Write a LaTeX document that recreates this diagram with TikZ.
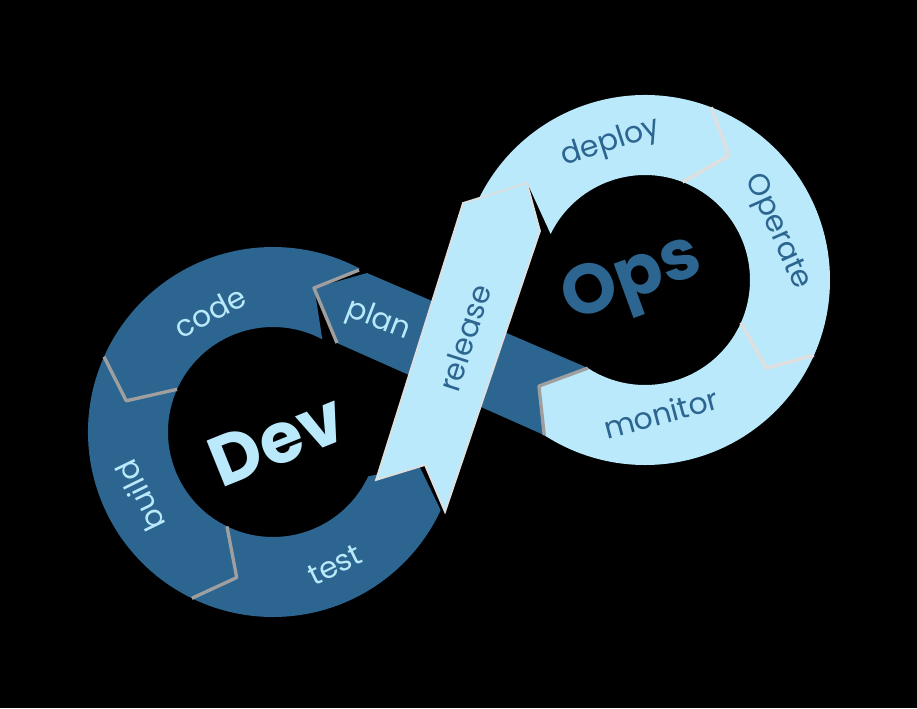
\documentclass[tikz,border=0pt]{standalone}
\usepackage{fontspec}
\setmainfont{Poppins}
\definecolor{devblue}{HTML}{2B6590}
\definecolor{opsblue}{HTML}{B9E9FA}
% one arrow piece of a loop: style, start angle, end angle, tip offset
\newcommand{\ringpart}[4]{%
  \fill[#1] (#2:\router) arc[start angle=#2,end angle=#3,radius=\router]
    -- ({#3+#4}:\rtip) -- (#3:\rinner) arc[start angle=#3,end angle=#2,radius=\rinner]
    -- ({#2+#4}:\rtip) -- cycle;}
\begin{document}
\begin{tikzpicture}[x=0.02cm,y=-0.02cm,
    darkpart/.style={fill=devblue},
    lightpart/.style={fill=opsblue},
    darkjoin/.style={draw=gray!75,line width=1.9pt,line join=round},
    lightjoin/.style={draw=gray!25,line width=1.9pt,line join=round},
    darklabel/.style={text=opsblue,font=\fontsize{17}{20}\selectfont},
    lightlabel/.style={text=devblue,font=\fontsize{17}{20}\selectfont},
    biglabel/.style={font=\fontsize{40}{44}\selectfont\bfseries}]
  \def\rinner{105}
  \def\router{185}
  \def\rtip{150}
  \fill[black] (0,0) rectangle (917,708);
  % dev loop
  \begin{scope}[shift={(273,432)}]
    \ringpart{darkpart}{116}{25}{-12}
    \ringpart{darkpart}{204}{116}{-12}
    \ringpart{darkpart}{298}{204}{-12}
  \end{scope}
  % ops loop
  \begin{scope}[shift={(645,280)}]
    \ringpart{lightpart}{24}{123}{12}
    \ringpart{lightpart}{291}{384}{12}
    \ringpart{lightpart}{206}{291}{13}
  \end{scope}
  % plan band goes under release
  \fill[darkpart] (367,273) -- (588,368) -- (539,386) -- (544,435) -- (337,343) -- (314,288) -- cycle;
  \fill[lightpart,draw=gray!25,line width=1pt] (463,203) -- (527,183) -- (540,231) -- (445,512)
    -- (425,465) -- (376,480) -- cycle;
  % joins
  \draw[darkjoin] (359,270) -- (314,288) -- (337,343);
  \begin{scope}[shift={(273,432)}]
    \draw[darkjoin] (204:\rinner) -- (192:\rtip) -- (204:\router);
    \draw[darkjoin] (116:\rinner) -- (104:\rtip) -- (116:\router);
  \end{scope}
  \begin{scope}[shift={(645,280)}]
    \draw[lightjoin] (291:\rinner) -- (304:\rtip) -- (291:\router);
    \draw[lightjoin] (24:\rinner) -- (36:\rtip) -- (24:\router);
    \draw[darkjoin] (123:\rinner) -- (135:\rtip) -- (123:\router);
  \end{scope}
  % labels
  \node[darklabel,rotate=28] (code) at (210,312) {code};
  \node[darklabel,rotate=116] (build) at (140,496) {build};
  \node[darklabel,rotate=26] (test) at (335,565) {test};
  \node[darklabel,rotate=-21] (plan) at (378,321) {plan};
  \node[lightlabel,rotate=72] (release) at (465,338) {release};
  \node[lightlabel,rotate=18] (deploy) at (611,143) {deploy};
  \node[lightlabel,rotate=-66] (operate) at (777,232) {Operate};
  \node[lightlabel,rotate=15] (monitor) at (661,413) {monitor};
  \node[biglabel,text=opsblue,rotate=22] (dev) at (277,440) {Dev};
  \node[biglabel,text=devblue,rotate=20] (ops) at (633,282) {Ops};
\end{tikzpicture}
\end{document}
